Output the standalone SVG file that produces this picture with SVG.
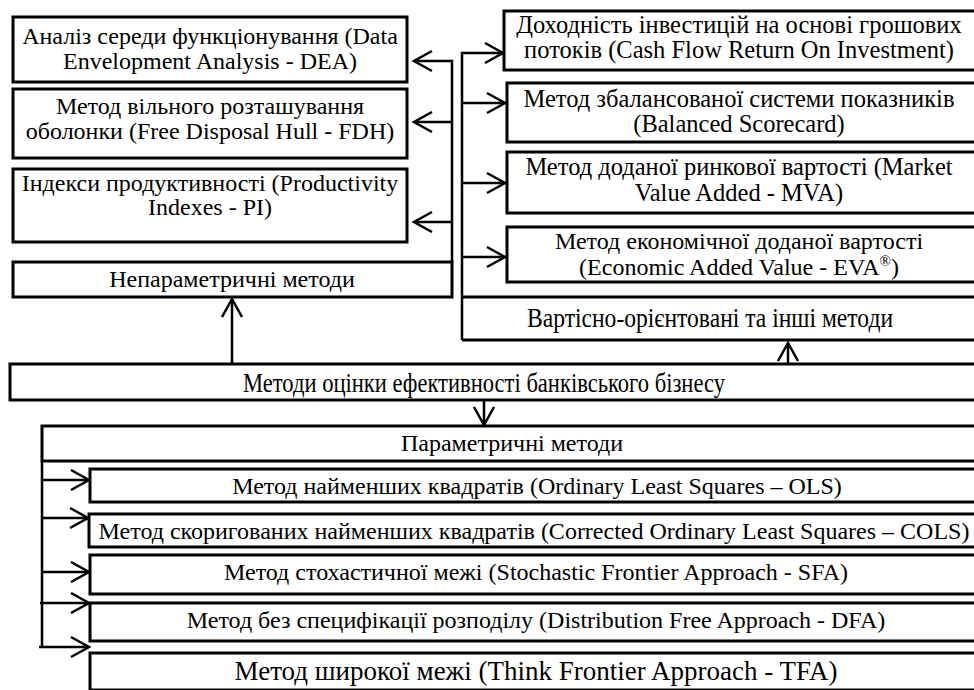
<svg xmlns="http://www.w3.org/2000/svg" width="974" height="690" viewBox="0 0 974 690">
<style>
.box{fill:#fff;stroke:#000;stroke-width:3}
text{font-family:'Liberation Serif','Times New Roman',Times,serif;fill:#000;text-anchor:middle}
.t{font-size:24px}
.r{font-size:24.5px}
.b{font-size:24px}
.c{font-size:28px}
.d{font-size:27px}
.ln{fill:none;stroke:#000;stroke-width:2.5}
</style>
<defs>
<marker id="ah" markerUnits="userSpaceOnUse" orient="auto" refX="0" refY="0" markerWidth="30" markerHeight="30" viewBox="-25 -15 30 30" overflow="visible">
<path d="M-18,-10 L0,0 L-18,10" fill="none" stroke="#000" stroke-width="2.5"/>
</marker>
</defs>
<rect width="974" height="690" fill="#fff"/>

<g id="connectors">
<path class="ln" d="M452,262 V61 H414" marker-end="url(#ah)"/>
<path class="ln" d="M452,122 H414" marker-end="url(#ah)"/>
<path class="ln" d="M452,222 H414" marker-end="url(#ah)"/>
<path class="ln" d="M462,340 V53 H503" marker-end="url(#ah)"/>
<path class="ln" d="M462,103 H505" marker-end="url(#ah)"/>
<path class="ln" d="M462,183 H505" marker-end="url(#ah)"/>
<path class="ln" d="M462,257 H505" marker-end="url(#ah)"/>
<path class="ln" d="M232,364 V299" marker-end="url(#ah)"/>
<path class="ln" d="M788,364 V343" marker-end="url(#ah)" stroke-width="3.5"/>
<path class="ln" d="M484,401 V425" marker-end="url(#ah)"/>
<path class="ln" d="M42,462 V647"/>
<path class="ln" d="M42,480 H89" marker-end="url(#ah)"/>
<path class="ln" d="M42,518 H88" marker-end="url(#ah)"/>
<path class="ln" d="M42,572 H89" marker-end="url(#ah)"/>
<path class="ln" d="M40,603 H89" marker-end="url(#ah)"/>
<path class="ln" d="M39,647 H89" marker-end="url(#ah)"/>
</g>

<g id="dea"><rect class="box" x="13" y="17" width="394" height="65"/>
<text class="t" x="210" y="44">Аналіз середи функціонування (Data</text>
<text class="t" x="210" y="69">Envelopment Analysis - DEA)</text></g>
<g id="fdh"><rect class="box" x="13" y="89" width="394" height="69"/>
<text class="t" x="210" y="114">Метод вільного розташування</text>
<text class="t" x="210" y="139">оболонки (Free Disposal Hull - FDH)</text></g>
<g id="pi"><rect class="box" x="13" y="169" width="394" height="73"/>
<text class="t" x="210" y="191">Індекси продуктивності (Productivity</text>
<text class="t" x="210" y="215">Indexes - PI)</text></g>
<g id="nonparam"><rect class="box" x="13" y="262" width="439" height="35"/>
<text class="t" x="232" y="287">Непараметричні методи</text></g>

<g id="cfroi"><rect class="box" x="504" y="11" width="480" height="59"/>
<text class="r" x="739" y="33">Доходність інвестицій на основі грошових</text>
<text class="r" x="739" y="58">потоків (Cash Flow Return On Investment)</text></g>
<g id="bsc"><rect class="box" x="507" y="83" width="477" height="59"/>
<text class="r" x="739" y="107">Метод збалансованої системи показників</text>
<text class="r" x="739" y="132">(Balanced Scorecard)</text></g>
<g id="mva"><rect class="box" x="507" y="152" width="477" height="61"/>
<text class="r" x="739" y="175">Метод доданої ринкової вартості (Market</text>
<text class="r" x="739" y="201">Value Added - MVA)</text></g>
<g id="eva"><rect class="box" x="507" y="227" width="477" height="55"/>
<text class="t" x="739" y="249">Метод економічної доданої вартості</text>
<text class="t" x="739" y="275">(Economic Added Value - EVA<tspan dy="-9" font-size="15">®</tspan><tspan dy="9">)</tspan></text></g>
<g id="value"><path class="box" d="M462,297 H984 M462,340 H984" fill="none"/>
<text class="c" x="710" y="327" textLength="366" lengthAdjust="spacingAndGlyphs">Вартісно-орієнтовані та інші методи</text></g>

<g id="main"><rect class="box" x="10" y="364" width="974" height="36"/>
<text class="c" x="484" y="392" textLength="482" lengthAdjust="spacingAndGlyphs">Методи оцінки ефективності банківського бізнесу</text></g>

<g id="param"><rect class="box" x="42" y="426" width="942" height="35"/>
<text class="b" x="512" y="451">Параметричні методи</text></g>
<g id="ols"><rect class="box" x="90" y="469" width="894" height="33"/>
<text class="b" x="537" y="494">Метод найменших квадратів (Ordinary Least Squares – OLS)</text></g>
<g id="cols"><rect class="box" x="89" y="514" width="895" height="33"/>
<text class="b" x="534" y="539">Метод скоригованих найменших квадратів (Corrected Ordinary Least Squares – COLS)</text></g>
<g id="sfa"><rect class="box" x="90" y="555" width="894" height="39"/>
<text class="b" x="536" y="580">Метод стохастичної межі (Stochastic Frontier Approach - SFA)</text></g>
<g id="dfa"><rect class="box" x="90" y="603" width="894" height="38"/>
<text class="b" x="536" y="628">Метод без специфікації розподілу (Distribution Free Approach - DFA)</text></g>
<g id="tfa"><rect class="box" x="90" y="653" width="894" height="37"/>
<text class="d" x="536" y="680">Метод широкої межі (Think Frontier Approach - TFA)</text></g>
</svg>
